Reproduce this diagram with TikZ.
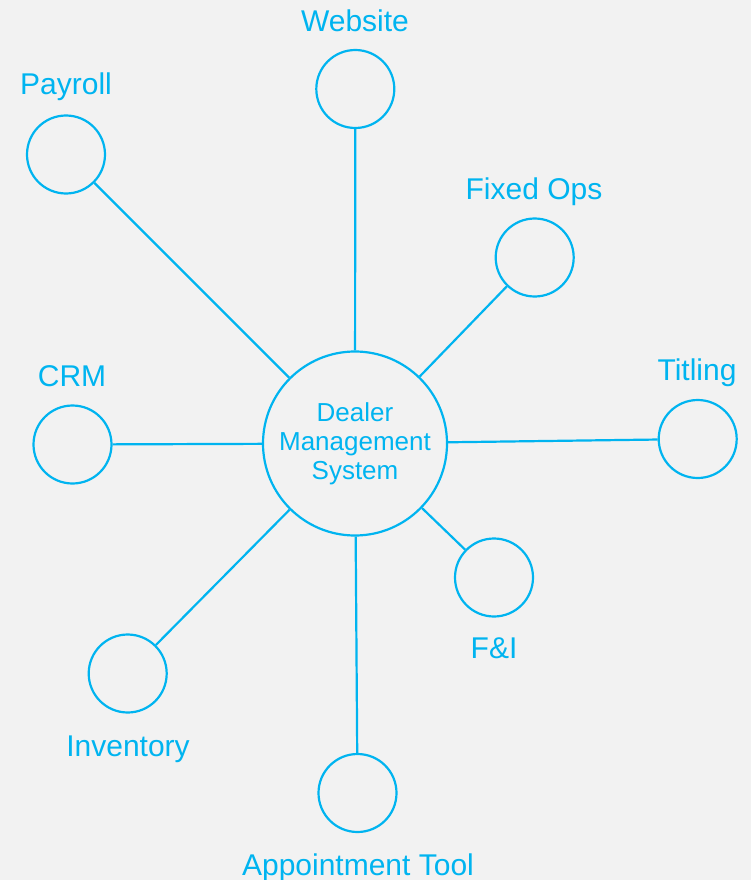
\documentclass[tikz,border=0pt]{standalone}
\usepackage{fontspec}
\setmainfont{Liberation Sans}
\usetikzlibrary{positioning}
\definecolor{dmsblue}{RGB}{0,180,240}
\definecolor{bggray}{RGB}{242,242,242}
\tikzstyle{hub} = [circle, minimum size=184pt, inner sep=0pt, draw=dmsblue, line width=2.2pt, text=dmsblue, align=center, font=\fontsize{26}{29}\selectfont]
\tikzstyle{spoke} = [circle, minimum size=78pt, inner sep=0pt, draw=dmsblue, line width=2.2pt]
\tikzstyle{lbl} = [anchor=base, inner sep=0pt, text=dmsblue, font=\fontsize{30}{34}\selectfont]
\tikzstyle{link} = [draw=dmsblue, line width=2.2pt]

\begin{document}
\begin{tikzpicture}[x=1pt, y=-1pt]

\fill [bggray] (0,0) rectangle (751,880);
\useasboundingbox (0,0) rectangle (751,880);

% Nodes
\node (dms) [hub] at (355,443.5) {Dealer\\Management\\System};

\node (web) [spoke] at (355.3,89) {};
\node (pay) [spoke] at (66,154.5) {};
\node (fix) [spoke] at (534.7,257.5) {};
\node (tit) [spoke] at (697.7,439) {};
\node (crm) [spoke] at (72.5,444.5) {};
\node (fni) [spoke] at (494,577.5) {};
\node (inv) [spoke] at (127.7,673.5) {};
\node (app) [spoke] at (357.5,793) {};

% Labels
\node (weblbl) [lbl] at (355,32) {Website};
\node (paylbl) [lbl] at (66,95) {Payroll};
\node (fixlbl) [lbl] at (534,199.5) {Fixed Ops};
\node (titlbl) [lbl] at (697,380) {Titling};
\node (crmlbl) [lbl] at (72,386) {CRM};
\node (fnilbl) [lbl] at (494,658.5) {F\&I};
\node (invlbl) [lbl] at (128,756) {Inventory};
\node (applbl) [lbl] at (358,875) {Appointment Tool};

% Lines
\draw [link] (dms) -- (web);
\draw [link] (dms) -- (pay);
\draw [link] (dms) -- (fix);
\draw [link] (dms) -- (tit);
\draw [link] (dms) -- (crm);
\draw [link] (dms) -- (fni);
\draw [link] (dms) -- (inv);
\draw [link] (dms) -- (app);

\end{tikzpicture}
\end{document}
